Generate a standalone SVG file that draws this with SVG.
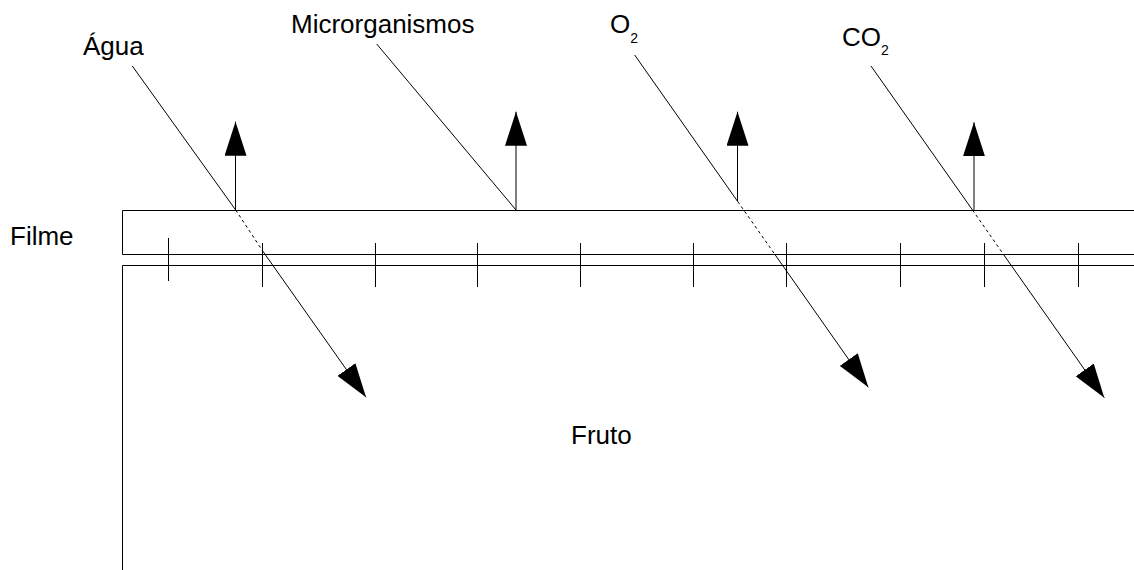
<svg xmlns="http://www.w3.org/2000/svg" width="1134" height="570" viewBox="0 0 1134 570">
<style>
.t{font-family:"Liberation Sans",Arial,sans-serif;font-size:26px;fill:#000}
.sub{font-family:"Liberation Sans",Arial,sans-serif;font-size:14px;fill:#000}
.ln{stroke:#000;stroke-width:1;fill:none}
.dash{stroke:#000;stroke-width:1;fill:none;stroke-dasharray:3,3}
.arr{stroke:#000;stroke-width:1;fill:none;marker-end:url(#ah)}
</style>
<defs>
<marker id="ah" viewBox="0 0 34 22" refX="34" refY="11" markerWidth="34" markerHeight="22" markerUnits="userSpaceOnUse" orient="auto">
<path d="M0,0 L34,11 L0,22 z" fill="#000"/>
</marker>
</defs>
<rect width="1134" height="570" fill="#fff"/>
<g id="filme">
<path class="ln" d="M1134,210.5 H122.5 V254.5 H1134"/>
<text class="t" x="10" y="245">Filme</text>
</g>
<g id="fruto">
<path class="ln" d="M1134,265.5 H122.5 V570"/>
<path class="ln" d="M168.5,238 V281 M262.5,243 V287 M375.5,243 V287 M477.5,243 V287 M580.5,243 V287 M693.5,243 V287 M786.5,243 V287 M900.5,243 V287 M984.5,243 V287 M1078.5,243 V287"/>
<text class="t" x="571" y="444">Fruto</text>
</g>
<g id="agua">
<text class="t" x="83" y="55">Água</text>
</g>
<g id="microrganismos">
<text class="t" x="291" y="33">Microrganismos</text>
</g>
<g id="o2">
<text class="t" x="610" y="33">O<tspan class="sub" dy="10">2</tspan></text>
</g>
<g id="co2">
<text class="t" x="842" y="46">CO<tspan class="sub" dy="9">2</tspan></text>
</g>
<g id="connectors">
<line class="ln" x1="132.3" y1="66" x2="235.7" y2="210"/>
<line class="dash" x1="235.7" y1="210" x2="262" y2="250"/>
<line class="arr" x1="262" y1="250" x2="366" y2="397.3"/>
<line class="arr" x1="235.5" y1="210" x2="235.5" y2="121.7"/>
<line class="ln" x1="376.7" y1="44" x2="516" y2="210"/>
<line class="arr" x1="516" y1="210" x2="516" y2="111.7"/>
<line class="ln" x1="634.7" y1="55" x2="737.7" y2="201.5"/>
<line class="dash" x1="737.7" y1="201.5" x2="774.6" y2="254"/>
<line class="arr" x1="774.6" y1="254" x2="868.3" y2="387.3"/>
<line class="arr" x1="737.5" y1="201" x2="737.5" y2="111.7"/>
<line class="ln" x1="871" y1="66" x2="972.5" y2="210"/>
<line class="dash" x1="972.5" y1="210" x2="1003.2" y2="254"/>
<line class="arr" x1="1003.2" y1="254" x2="1104.3" y2="397.7"/>
<line class="arr" x1="974" y1="210" x2="974" y2="122.3"/>
</g>
</svg>
